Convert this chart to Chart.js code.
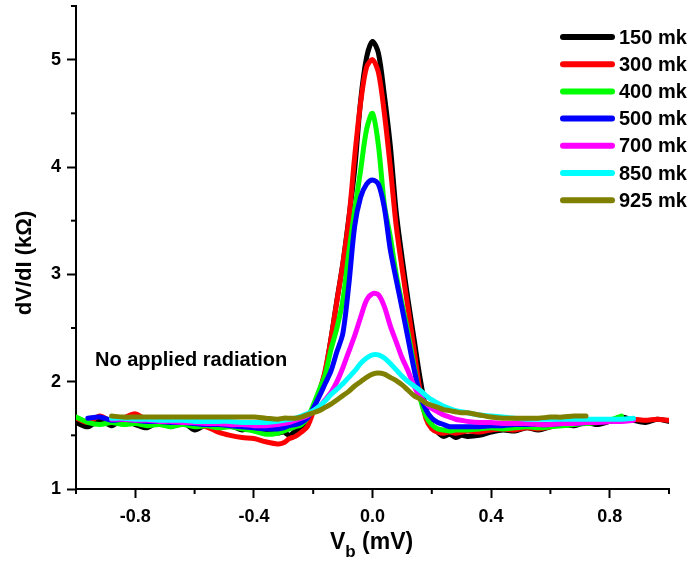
<!DOCTYPE html>
<html><head><meta charset="utf-8">
<script src="https://cdn.jsdelivr.net/npm/chart.js@4.4.1/dist/chart.umd.min.js"></script>
<style>html,body{margin:0;padding:0;background:#fff;}#wrap{width:692px;height:573px;}</style>
</head><body><div id="wrap"><canvas id="c" width="692" height="573"></canvas></div>
<script>
// Bias voltage (mV)
const vb = [-1.00,-0.96,-0.92,-0.88,-0.84,-0.80,-0.76,-0.72,-0.68,-0.64,-0.60,-0.56,-0.52,-0.48,-0.44,-0.40,-0.36,-0.32,
  -0.30,-0.28,-0.26,-0.24,-0.22,-0.20,-0.18,-0.16,-0.14,-0.12,-0.10,-0.08,-0.06,-0.04,-0.02,0.00,0.02,0.04,0.06,0.08,0.10,0.12,0.14,0.16,0.18,0.20,0.22,0.24,0.26,0.28,0.30,
  0.32,0.36,0.40,0.44,0.48,0.52,0.56,0.60,0.64,0.68,0.72,0.76,0.80,0.84,0.88,0.92,0.96,1.00];
// dV/dI (kOhm) per temperature
const r150 = [1.62,1.58,1.64,1.59,1.65,1.60,1.57,1.63,1.58,1.62,1.55,1.60,1.57,1.59,1.55,1.58,1.54,1.52,
  1.53,1.50,1.54,1.56,1.62,1.75,1.90,2.08,2.40,2.76,3.10,3.52,3.98,4.62,5.02,5.17,5.06,4.67,4.20,3.58,3.15,2.76,2.40,2.04,1.75,1.60,1.53,1.49,1.51,1.48,1.50,
  1.49,1.50,1.53,1.55,1.54,1.57,1.55,1.58,1.60,1.59,1.62,1.60,1.63,1.67,1.64,1.62,1.65,1.63];
const r300 = [1.66,1.62,1.68,1.63,1.66,1.70,1.64,1.62,1.60,1.65,1.60,1.58,1.53,1.50,1.48,1.47,1.44,1.42,
  1.43,1.47,1.49,1.53,1.58,1.72,1.90,2.10,2.40,2.75,3.10,3.51,4.10,4.60,4.93,5.00,4.88,4.50,4.00,3.45,3.05,2.68,2.30,1.92,1.66,1.56,1.53,1.52,1.53,1.52,1.53,
  1.54,1.53,1.55,1.56,1.55,1.57,1.56,1.58,1.60,1.61,1.62,1.62,1.63,1.64,1.65,1.64,1.65,1.64];
const r400 = [1.67,1.62,1.60,1.62,1.60,1.61,1.59,1.60,1.58,1.60,1.58,1.59,1.57,1.58,1.56,1.54,1.51,1.52,
  1.54,1.56,1.58,1.60,1.66,1.78,1.92,2.06,2.30,2.50,2.76,3.20,3.60,3.97,4.35,4.50,4.20,3.65,3.35,3.00,2.72,2.45,2.15,1.85,1.68,1.60,1.56,1.55,1.54,1.55,1.55,
  1.55,1.56,1.57,1.56,1.57,1.58,1.57,1.58,1.59,1.60,1.61,1.62,1.64,1.68,null,null,null,null];
const r500 = [null,1.66,1.67,1.64,1.65,1.64,1.63,1.63,1.62,1.62,1.61,1.60,1.60,1.59,1.58,1.57,1.56,1.56,
  1.57,1.59,1.60,1.62,1.66,1.75,1.86,1.98,2.10,2.28,2.45,2.90,3.45,3.72,3.84,3.88,3.84,3.62,3.23,2.95,2.68,2.40,2.12,1.88,1.74,1.66,1.62,1.60,1.58,1.58,1.58,
  1.58,1.58,1.59,1.59,1.60,1.60,1.60,1.60,1.61,1.61,1.62,1.62,1.63,1.64,1.65,null,null,null];
const r700 = [null,null,null,1.65,1.65,1.64,1.64,1.63,1.63,1.62,1.62,1.61,1.61,1.60,1.60,1.59,1.59,1.60,
  1.61,1.62,1.64,1.66,1.68,1.72,1.76,1.83,1.90,2.00,2.13,2.28,2.43,2.60,2.76,2.82,2.81,2.70,2.52,2.37,2.22,2.10,1.96,1.86,1.80,1.75,1.72,1.69,1.67,1.65,1.64,
  1.63,1.62,1.62,1.61,1.61,1.61,1.60,1.60,1.61,1.61,1.62,1.62,1.63,1.63,1.64,null,null,null];
const r850 = [null,null,null,1.66,1.66,1.65,1.65,1.64,1.64,1.64,1.63,1.63,1.63,1.63,1.62,1.62,1.62,1.63,
  1.64,1.65,1.66,1.68,1.70,1.73,1.77,1.82,1.88,1.93,1.98,2.04,2.10,2.17,2.22,2.25,2.25,2.22,2.17,2.11,2.05,2.00,1.96,1.92,1.87,1.83,1.80,1.77,1.75,1.73,1.72,
  1.71,1.69,1.68,1.67,1.66,1.65,1.65,1.65,1.65,1.65,1.65,1.65,1.65,1.65,1.66,null,null,null];
const r925 = [null,null,null,1.68,1.67,1.67,1.67,1.67,1.67,1.67,1.67,1.67,1.67,1.67,1.67,1.67,1.66,1.65,
  1.66,1.66,1.66,1.67,1.69,1.71,1.73,1.76,1.79,1.83,1.87,1.91,1.96,2.00,2.04,2.07,2.08,2.07,2.04,2.01,1.97,1.92,1.87,1.84,1.80,1.78,1.76,1.74,1.73,1.72,1.71,
  1.71,1.69,1.67,1.66,1.66,1.66,1.66,1.67,1.67,1.68,1.68,null,null,null,null,null,null,null];

const seriesLabels = ['150 mk','300 mk','400 mk','500 mk','700 mk','850 mk','925 mk'];
const seriesValues = [r150,r300,r400,r500,r700,r850,r925];
const seriesColors = ['#000000','#ff0000','#00ff00','#0000ff','#ff00ff','#00ffff','#808000'];

const xMajorTicks = [-0.8,-0.4,0.0,0.4,0.8];
const xMinorTicks = [-1.0,-0.6,-0.2,0.2,0.6,1.0];
const yMajorTicks = [1,2,3,4,5];
const yMinorTicks = [1.5,2.5,3.5,4.5,5.5];

const FONT = "'Liberation Sans', Arial, sans-serif";
const isMajor = (arr, v) => arr.some(m => Math.abs(m - v) < 1e-6);

const datasets = seriesValues.map((vals, i) => ({
  label: seriesLabels[i],
  data: vb.map((x, j) => ({x: x, y: vals[j]})),
  borderColor: seriesColors[i],
  backgroundColor: seriesColors[i],
  borderWidth: 5,
  pointRadius: 0,
  fill: false,
  tension: 0.3,
  borderJoinStyle: 'round',
  borderCapStyle: 'round',
  spanGaps: false,
  order: seriesValues.length - i
}));

const decor = {
  id: 'decor',
  afterDraw(chart) {
    const ctx = chart.ctx, xs = chart.scales.x, ys = chart.scales.y, ca = chart.chartArea;
    ctx.save();
    ctx.strokeStyle = '#000'; ctx.lineWidth = 2;
    xMinorTicks.forEach(v => { const p = xs.getPixelForValue(v); ctx.beginPath(); ctx.moveTo(p, ca.bottom); ctx.lineTo(p, ca.bottom + 5); ctx.stroke(); });
    yMinorTicks.forEach(v => { const p = ys.getPixelForValue(v); ctx.beginPath(); ctx.moveTo(ca.left, p); ctx.lineTo(ca.left - 5, p); ctx.stroke(); });
    ctx.fillStyle = '#000';
    // y title
    ctx.save();
    ctx.translate(25, 263);
    ctx.rotate(-Math.PI / 2);
    ctx.font = 'bold 22px ' + FONT;
    ctx.textAlign = 'center'; ctx.textBaseline = 'middle';
    ctx.fillText('dV/dI (k\u03A9)', 0, 0);
    ctx.restore();
    // x title with subscript
    ctx.textBaseline = 'alphabetic'; ctx.textAlign = 'left';
    ctx.font = 'bold 23px ' + FONT;
    let x0 = 330;
    ctx.fillText('V', x0, 549);
    x0 += ctx.measureText('V').width;
    ctx.font = 'bold 17px ' + FONT;
    ctx.fillText('b', x0, 557);
    x0 += ctx.measureText('b').width;
    ctx.font = 'bold 23px ' + FONT;
    ctx.fillText(' (mV)', x0, 549);
    // annotation
    ctx.font = 'bold 20px ' + FONT;
    ctx.textBaseline = 'middle';
    ctx.fillText('No applied radiation', 95, 360);
    // legend
    chart.data.datasets.forEach((ds, i) => {
      const y = 37 + i * 27.2;
      ctx.strokeStyle = ds.borderColor; ctx.lineWidth = 6; ctx.lineCap = 'round';
      ctx.beginPath(); ctx.moveTo(563, y); ctx.lineTo(612, y); ctx.stroke();
      ctx.fillStyle = '#000';
      ctx.font = 'bold 20px ' + FONT;
      ctx.textBaseline = 'middle';
      ctx.fillText(ds.label, 619, y + 1);
    });
    ctx.restore();
  }
};

new Chart(document.getElementById('c'), {
  type: 'line',
  data: { datasets },
  plugins: [decor],
  options: {
    responsive: false, animation: false, devicePixelRatio: 1,
    layout: { padding: { top: 6, right: 23, left: 0, bottom: 0 } },
    plugins: { legend: { display: false }, tooltip: { enabled: false }, title: { display: false } },
    scales: {
      x: {
        type: 'linear', min: -1, max: 1,
        afterBuildTicks: s => { s.ticks = [...xMajorTicks, ...xMinorTicks].sort((a, b) => a - b).map(v => ({ value: v })); },
        afterFit: s => { s.height = 84; },
        ticks: {
          autoSkip: false, maxRotation: 0, padding: 8, color: '#000',
          font: { family: FONT, weight: 'bold', size: 18 },
          callback: v => isMajor(xMajorTicks, v) ? v.toFixed(1) : ''
        },
        grid: {
          display: true, drawOnChartArea: false, drawTicks: true, tickLength: 9, tickWidth: 2,
          tickColor: c => (c.tick && isMajor(xMajorTicks, c.tick.value)) ? '#000' : 'rgba(0,0,0,0)'
        },
        border: { display: true, color: '#000', width: 2 }
      },
      y: {
        type: 'linear', min: 1, max: 5.5,
        afterBuildTicks: s => { s.ticks = [...yMajorTicks, ...yMinorTicks].sort((a, b) => a - b).map(v => ({ value: v })); },
        afterFit: s => { s.width = 76; s.paddingTop = 0; s.paddingBottom = 0; },
        ticks: {
          autoSkip: false, padding: 6, color: '#000',
          font: { family: FONT, weight: 'bold', size: 18, lineHeight: 0.6 },
          callback: v => isMajor(yMajorTicks, v) ? String(v) : ''
        },
        grid: {
          display: true, drawOnChartArea: false, drawTicks: true, tickLength: 9, tickWidth: 2,
          tickColor: c => (c.tick && isMajor(yMajorTicks, c.tick.value)) ? '#000' : 'rgba(0,0,0,0)'
        },
        border: { display: true, color: '#000', width: 2 }
      }
    }
  }
});
</script></body></html>
